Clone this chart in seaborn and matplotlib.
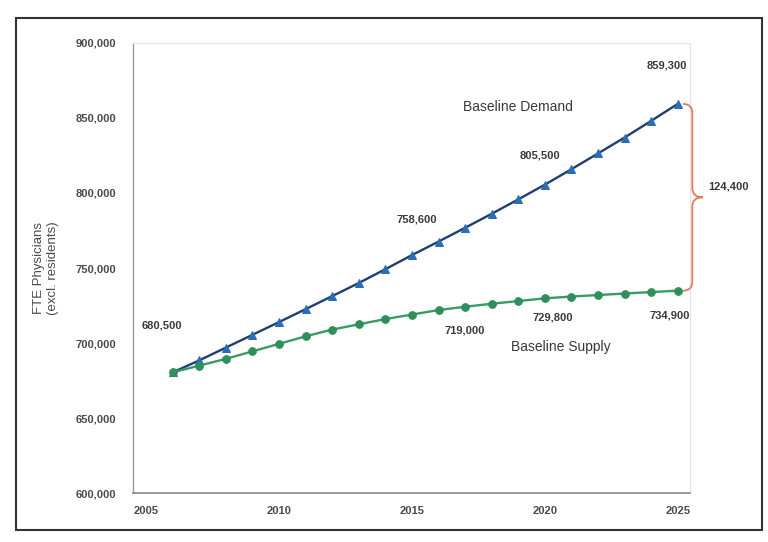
import numpy as np
import pandas as pd
import matplotlib
matplotlib.use('Agg')
import matplotlib.pyplot as plt
import seaborn as sns
from matplotlib.path import Path
from matplotlib.patches import PathPatch, Rectangle

years = list(range(2006, 2026))
demand = [680500, 688500, 697000, 705500, 714000, 722600, 731300, 740000, 749200, 758600,
          767600, 776800, 786100, 795700, 805500, 815800, 826300, 836900, 848000, 859300]
supply = [680500, 685000, 689500, 694500, 699500, 704500, 709000, 712500, 716000, 719000,
          722000, 724200, 726200, 728000, 729800, 731000, 732000, 733000, 734000, 734900]
y_ticks = [600000, 650000, 700000, 750000, 800000, 850000, 900000]
x_ticks = [2005, 2010, 2015, 2020, 2025]

df = pd.DataFrame({'year': years, 'demand': demand, 'supply': supply})

sns.set_style('white')
plt.rcParams['font.family'] = ['Liberation Sans', 'DejaVu Sans']

fig = plt.figure(figsize=(7.68, 5.42), dpi=100)
ax = fig.add_axes([0.173, 0.090, 0.725, 0.831])

sns.lineplot(data=df, x='year', y='demand', ax=ax, color='#1f3f6e', lw=1.7,
             marker='^', markersize=6, markerfacecolor='#2a6fb5', markeredgecolor='#2a6fb5')
sns.lineplot(data=df, x='year', y='supply', ax=ax, color='#3a9a66', lw=1.7,
             marker='o', markersize=5.5, markerfacecolor='#2f8f5a', markeredgecolor='#2f8f5a')

ax.set_xlim(2004.5, 2025.45)
ax.set_ylim(600000, 900000)
ax.set_xticks(x_ticks)
ax.set_yticks(y_ticks)
ax.set_yticklabels([f'{v:,}' for v in y_ticks])
ax.tick_params(axis='both', length=0, labelsize=8, labelcolor='#4a4a4a')
ax.tick_params(axis='y', pad=12)
ax.tick_params(axis='x', pad=9)
for lab in ax.get_xticklabels() + ax.get_yticklabels():
    lab.set_fontweight('bold')
ax.set_xlabel('')
ax.set_ylabel('FTE Physicians\n(excl. residents)', fontsize=9.5, color='#4a4a4a', labelpad=12)

for side in ['top', 'right']:
    ax.spines[side].set_color('#e4e4e4')
    ax.spines[side].set_linewidth(0.8)
ax.spines['left'].set_color('#9a9a9a')
ax.spines['bottom'].set_color('#8a8a8a')
ax.spines['left'].set_linewidth(1.0)
ax.spines['bottom'].set_linewidth(1.2)

lab_kw = dict(fontsize=8, fontweight='bold', color='#3a3a3a', ha='center', va='center')
ax.text(2005.6, 711500, '680,500', **lab_kw)
ax.text(2015.2, 782000, '758,600', **lab_kw)
ax.text(2019.8, 825000, '805,500', **lab_kw)
ax.text(2024.6, 885000, '859,300', **lab_kw)
ax.text(2017.0, 708700, '719,000', **lab_kw)
ax.text(2020.3, 717300, '729,800', **lab_kw)
ax.text(2024.7, 718700, '734,900', **lab_kw)
ax.text(2026.9, 804000, '124,400', clip_on=False, **lab_kw)
ax.text(2019.0, 857000, 'Baseline Demand', fontsize=10, color='#3a3a3a', ha='center', va='center')
ax.text(2020.6, 697300, 'Baseline Supply', fontsize=10, color='#3a3a3a', ha='center', va='center')

# curly brace showing the gap in 2025
y1, y2 = demand[-1], supply[-1]
ym = (y1 + y2) / 2
xa, xb, xc, d = 2025.2, 2025.55, 2025.95, 6000
verts = [(xa, y1), (xb, y1), (xb, y1 - d), (xb, ym + d), (xb, ym), (xc, ym),
         (xb, ym), (xb, ym - d), (xb, y2 + d), (xb, y2), (xa, y2)]
codes = [Path.MOVETO, Path.CURVE3, Path.CURVE3, Path.LINETO, Path.CURVE3, Path.CURVE3,
         Path.CURVE3, Path.CURVE3, Path.LINETO, Path.CURVE3, Path.CURVE3]
ax.add_patch(PathPatch(Path(verts, codes), fc='none', ec='#de7d5c', lw=1.3,
                       clip_on=False, zorder=5))

# outer frame around the chart
fig.patches.append(Rectangle((0.021, 0.022), 0.971, 0.945, transform=fig.transFigure,
                             fill=False, ec='#333333', lw=1.5))

fig.savefig('out.png', dpi=100)
